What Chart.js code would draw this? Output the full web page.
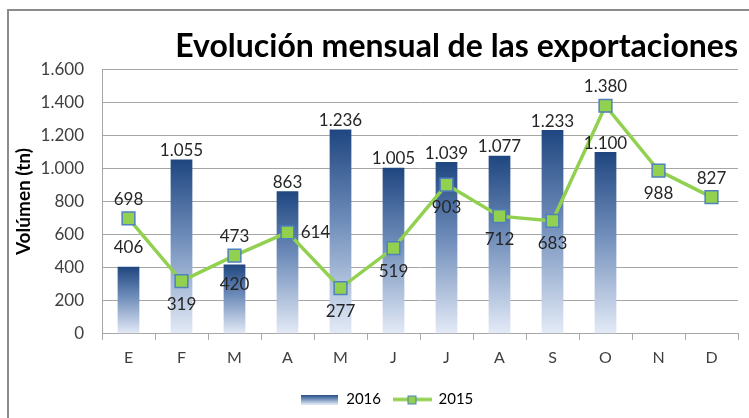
<!DOCTYPE html>
<html>
<head>
<meta charset="utf-8">
<script src="https://cdn.jsdelivr.net/npm/chart.js@4.4.0/dist/chart.umd.min.js"></script>
<style>
    html, body { margin: 0; padding: 0; background: #fff; overflow: hidden; }
    #wrap { position: relative; width: 749px; height: 418px; }
    #myChart { position: absolute; left: 0; top: 0; }
    #marco { position: absolute; left: 7px; top: 9px; width: 800px; height: 500px; border: 2px solid #8c8c8c; pointer-events: none; }
</style>
</head>
<body>
<div id="wrap">
    <canvas id="myChart" width="749" height="418"></canvas>
    <div id="marco"></div>
</div>
<script>
// Datos
const meses = ['E', 'F', 'M', 'A', 'M', 'J', 'J', 'A', 'S', 'O', 'N', 'D'];
const datos2016 = [406, 1055, 420, 863, 1236, 1005, 1039, 1077, 1233, 1100, null, null];
const datos2015 = [698, 319, 473, 614, 277, 519, 903, 712, 683, 1380, 988, 827];
const ejeY = { min: 0, max: 1600, paso: 200 };

// Ubicación de las etiquetas de datos
const lugar2016 = ['alto', 'arriba', 'dentro', 'arriba', 'arriba', 'arriba', 'arriba', 'arriba', 'arriba', 'arriba', null, null];
const lugar2015 = ['arriba', 'abajo', 'arriba', 'derecha', 'abajo', 'abajo', 'abajo', 'abajo', 'abajo', 'arriba', 'abajo', 'arriba'];

const FUENTE = 'Lato, "Open Sans", sans-serif';
const TEXTO = '#404040';
const VERDE = '#92D050';
const AZUL_BORDE = '#4F81BD';

const formato = (v) => String(v).replace(/\B(?=(\d{3})+(?!\d))/g, '.');

const degradado = (c, y0, y1) => {
    const g = c.createLinearGradient(0, y0, 0, y1);
    g.addColorStop(0, '#1F4680');
    g.addColorStop(0.45, '#6F8DBA');
    g.addColorStop(1, '#E4EBF7');
    return g;
}

// iconos de la leyenda
const iconoBarra = document.createElement('canvas');
iconoBarra.width = 37; iconoBarra.height = 10;
(() => {
    const c = iconoBarra.getContext('2d');
    c.fillStyle = degradado(c, 0, 10);
    c.fillRect(0, 0, 37, 10);
})();

const iconoLinea = document.createElement('canvas');
iconoLinea.width = 39; iconoLinea.height = 12;
(() => {
    const c = iconoLinea.getContext('2d');
    c.strokeStyle = VERDE; c.lineWidth = 3.5;
    c.beginPath(); c.moveTo(0, 6); c.lineTo(39, 6); c.stroke();
    c.fillStyle = VERDE; c.fillRect(15, 2, 9, 9);
    c.strokeStyle = AZUL_BORDE; c.lineWidth = 1;
    c.strokeRect(15.5, 2.5, 8, 8);
})();

const etiquetas = {
    id: 'etiquetas',
    afterDatasetsDraw(chart) {
        const c = chart.ctx;
        c.save();
        c.font = '17px ' + FUENTE;
        c.fillStyle = '#262626';
        c.textAlign = 'center';
        c.textBaseline = 'middle';
        chart.getDatasetMeta(1).data.forEach((el, i) => {
            const v = datos2016[i];
            if (v == null) return;
            const p = lugar2016[i];
            const dy = p === 'alto' ? -19 : p === 'dentro' ? 20 : -9;
            c.fillText(formato(v), el.x, el.y + dy);
        });
        chart.getDatasetMeta(0).data.forEach((el, i) => {
            const p = lugar2015[i];
            let dx = 0, dy = 0;
            if (p === 'arriba') dy = -19;
            if (p === 'abajo') dy = 23;
            if (p === 'derecha') dx = 28;
            c.fillText(formato(datos2015[i]), el.x + dx, el.y + dy);
        });
        c.restore();
    }
}

const ctx = document.getElementById('myChart').getContext('2d');

const myChart = new Chart(ctx, {
    data: {
        labels: meses,
        datasets: [{
            type: 'line',
            label: '2015',
            data: datos2015,
            order: 0,
            borderColor: VERDE,
            borderWidth: 3.5,
            pointStyle: 'rect',
            pointRadius: 9,
            pointBackgroundColor: VERDE,
            pointBorderColor: AZUL_BORDE,
            pointBorderWidth: 1.5,
            tension: 0
        }, {
            type: 'bar',
            label: '2016',
            data: datos2016,
            order: 1,
            categoryPercentage: 1,
            barPercentage: 0.41,
            backgroundColor: (context) => {
                const chart = context.chart;
                const y = chart.scales && chart.scales.y;
                if (!chart.chartArea || !y || context.type !== 'data' || !context.parsed) return '#4A6FA5';
                const top = y.getPixelForValue(context.parsed.y);
                const base = y.getPixelForValue(0);
                if (!Number.isFinite(top) || !Number.isFinite(base) || top === base) return '#4A6FA5';
                return degradado(chart.ctx, top, base);
            }
        }]
    },
    options: {
        responsive: false,
        animation: false,
        layout: { padding: { left: 36, right: 11, top: 18, bottom: 1 } },
        plugins: {
            tooltip: { enabled: false },
            title: {
                display: true,
                text: 'Evolución mensual de las exportaciones',
                align: 'end',
                color: '#000',
                font: { family: FUENTE, size: 32, weight: 'bold' },
                padding: { top: 9, bottom: 4 }
            },
            legend: {
                position: 'bottom',
                labels: {
                    usePointStyle: true,
                    pointStyleWidth: 38,
                    color: TEXTO,
                    font: { family: FUENTE, size: 15 },
                    padding: 12,
                    generateLabels: () => [
                        { text: '2016', pointStyle: iconoBarra, fillStyle: '#1F4680', strokeStyle: '#1F4680', lineWidth: 0, datasetIndex: 1 },
                        { text: '2015', pointStyle: iconoLinea, fillStyle: VERDE, strokeStyle: VERDE, lineWidth: 0, datasetIndex: 0 }
                    ]
                }
            }
        },
        scales: {
            x: {
                offset: true,
                afterFit: (s) => { s.height += 5; },
                grid: { offset: true, drawOnChartArea: false, drawTicks: true, tickLength: 6, color: '#a6a6a6' },
                border: { color: '#a6a6a6' },
                ticks: { color: TEXTO, font: { family: FUENTE, size: 16 }, padding: 8 }
            },
            y: {
                min: ejeY.min,
                max: ejeY.max,
                afterFit: (s) => { s.width = 66; },
                ticks: {
                    stepSize: ejeY.paso,
                    color: TEXTO,
                    font: { family: FUENTE, size: 17 },
                    padding: 18,
                    callback: (v) => formato(v)
                },
                grid: { color: '#a6a6a6', drawTicks: false },
                border: { color: '#a6a6a6' },
                title: {
                    display: true,
                    text: 'Volúmen (tn)',
                    color: '#000',
                    font: { family: FUENTE, size: 19, weight: 'bold' },
                    padding: { top: -24, bottom: 0 }
                }
            }
        }
    },
    plugins: [etiquetas]
});
</script>
</body>
</html>
